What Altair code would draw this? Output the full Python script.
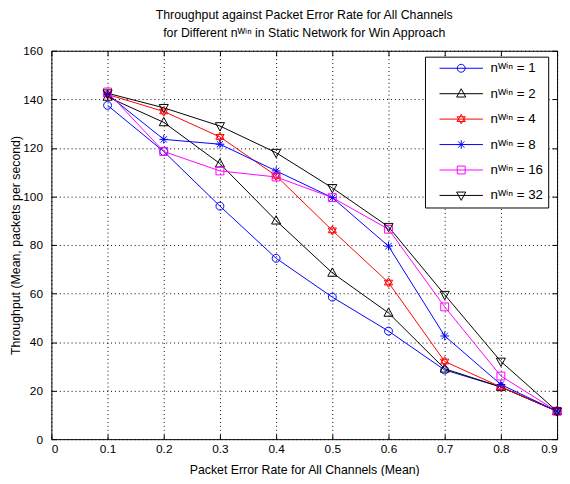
import altair as alt
import pandas as pd

# ---- data ----
per = [0.1, 0.2, 0.3, 0.4, 0.5, 0.6, 0.7, 0.8, 0.9]
n_win = [1, 2, 4, 8, 16, 32]
tp_n1 = [137.5, 118.5, 96.0, 74.5, 58.5, 44.5, 28.5, 21.5, 11.5]
tp_n2 = [141.0, 130.5, 113.5, 90.0, 68.5, 52.0, 29.0, 21.5, 11.5]
tp_n4 = [142.0, 135.0, 124.5, 108.5, 86.0, 64.5, 32.0, 21.5, 11.5]
tp_n8 = [142.0, 123.5, 121.5, 110.5, 99.5, 79.5, 42.5, 22.5, 11.5]
tp_n16 = [143.0, 118.5, 110.5, 108.0, 99.5, 86.5, 54.5, 26.0, 11.5]
tp_n32 = [142.5, 136.5, 129.0, 118.0, 103.5, 87.5, 59.5, 32.0, 11.5]
x_ticks = [0, 0.1, 0.2, 0.3, 0.4, 0.5, 0.6, 0.7, 0.8, 0.9]
y_ticks = [0, 20, 40, 60, 80, 100, 120, 140, 160]

series_vals = [tp_n1, tp_n2, tp_n4, tp_n8, tp_n16, tp_n32]
labels = [f"n\u1D42\u2071\u207F = {n}" for n in n_win]
colors = ["#0000FF", "#000000", "#FF0000", "#0000FF", "#FF00FF", "#000000"]

# marker outlines (unit coords, scaled by sqrt(size)/2)
m_circle = "M-1,0A1,1 0 1,1 1,0A1,1 0 1,1 -1,0Z"
m_tri_up = "M0,-1.25L1.15,0.85L-1.15,0.85Z"
m_hexa = "M0,-1.2L1.04,0.6L-1.04,0.6Z M0,1.2L1.04,-0.6L-1.04,-0.6Z"
m_star = "M0,-1.1V1.1 M-1.1,0H1.1 M-0.8,-0.8L0.8,0.8 M-0.8,0.8L0.8,-0.8"
m_square = "M-1,-1H1V1H-1Z"
m_tri_dn = "M0,1.25L1.15,-0.85L-1.15,-0.85Z"
markers = [m_circle, m_tri_up, m_hexa, m_star, m_square, m_tri_dn]
seg = "M-5.5,0H5.5 "
legend_markers = [seg + m for m in markers]

rows = []
for lab, vals in zip(labels, series_vals):
    for x, y in zip(per, vals):
        rows.append({"per": x, "tp": y, "series": lab})
df = pd.DataFrame(rows)

FONT = "Liberation Sans"

x_enc_main = alt.X(
    "per:Q",
    scale=alt.Scale(domain=[0, 0.9], nice=False, zero=False),
    axis=alt.Axis(
        title="Packet Error Rate for All Channels (Mean)",
        values=x_ticks, format=".1~f", orient="bottom",
        offset=-5, tickSize=5, labelPadding=5, titlePadding=9,
        grid=True, domain=False,
    ),
)
y_enc_main = alt.Y(
    "tp:Q",
    scale=alt.Scale(domain=[0, 160], nice=False),
    axis=alt.Axis(
        title="Throughput (Mean, packets per second)",
        values=y_ticks, orient="left",
        offset=-5, tickSize=5, labelPadding=9, titlePadding=0,
        grid=True, domain=False,
    ),
)
x_enc_top = alt.X(
    "per:Q",
    axis=alt.Axis(title=None, values=x_ticks, orient="top", offset=-5, tickSize=5,
                  labels=False, grid=False, domain=False),
)
y_enc_right = alt.Y(
    "tp:Q",
    axis=alt.Axis(title=None, values=y_ticks, orient="right", offset=-5, tickSize=5,
                  labels=False, grid=False, domain=False),
)

color_scale = alt.Scale(domain=labels, range=colors)

lines = alt.Chart(df).mark_line(strokeWidth=1, clip=True).encode(
    x=x_enc_main,
    y=y_enc_main,
    color=alt.Color("series:N", scale=color_scale, legend=None),
    detail="series:N",
    order="per:Q",
)

points = alt.Chart(df).mark_point(filled=False, size=64, strokeWidth=1, opacity=1).encode(
    x=x_enc_top,
    y=y_enc_right,
    color=alt.Color("series:N", scale=color_scale, legend=None),
    shape=alt.Shape("series:N", scale=alt.Scale(domain=labels, range=markers), legend=None),
)

legend_layer = alt.Chart(df).mark_point(filled=False, size=64, strokeWidth=1, opacity=0).encode(
    x=alt.X("per:Q", axis=None),
    y=alt.Y("tp:Q", axis=None),
    color=alt.Color("series:N", scale=color_scale, legend=None),
    shape=alt.Shape(
        "series:N",
        scale=alt.Scale(domain=labels, range=legend_markers),
        legend=alt.Legend(
            title=None,
            labelExpr="datum.label + '\u2003'",
            symbolStrokeColor={"expr": "scale('color', datum.value)"},
            symbolFillColor="transparent",
            symbolOpacity=1,
        ),
    ),
)

chart = (
    alt.layer(lines, points, legend_layer)
    .resolve_scale(shape="independent")
    .properties(
        width=513,
        height=394,
        padding={"left": 44, "top": 40, "right": 5, "bottom": 34},
        autosize=alt.AutoSizeParams(type="none"),
        title=alt.TitleParams(
            text=["Throughput against Packet Error Rate for All Channels",
                  "for Different n\u1D42\u2071\u207F in Static Network for Win Approach"],
            font=FONT, fontSize=12.5, fontWeight="normal", color="black",
            anchor="middle", offset=5, lineHeight=19,
        ),
    )
    .configure_view(stroke="black", strokeWidth=1)
    .configure_axis(
        labelFont=FONT, labelFontSize=12, labelColor="black",
        titleFont=FONT, titleFontSize=12.5, titleFontWeight="normal", titleColor="black",
        tickColor="black", tickWidth=1,
        gridColor="black", gridDash=[1, 3], gridOpacity=1, gridWidth=1,
    )
    .configure_legend(
        orient="none", legendX=379, legendY=6,
        strokeColor="black", fillColor="white", padding=5, cornerRadius=0,
        symbolSize=64, symbolStrokeWidth=1, symbolOffset=25, labelOffset=23,
        labelFont=FONT, labelFontSize=13.5, labelColor="black", rowPadding=10.8,
    )
)

chart.save("out.html", embed_options={"renderer": "svg", "actions": False})
